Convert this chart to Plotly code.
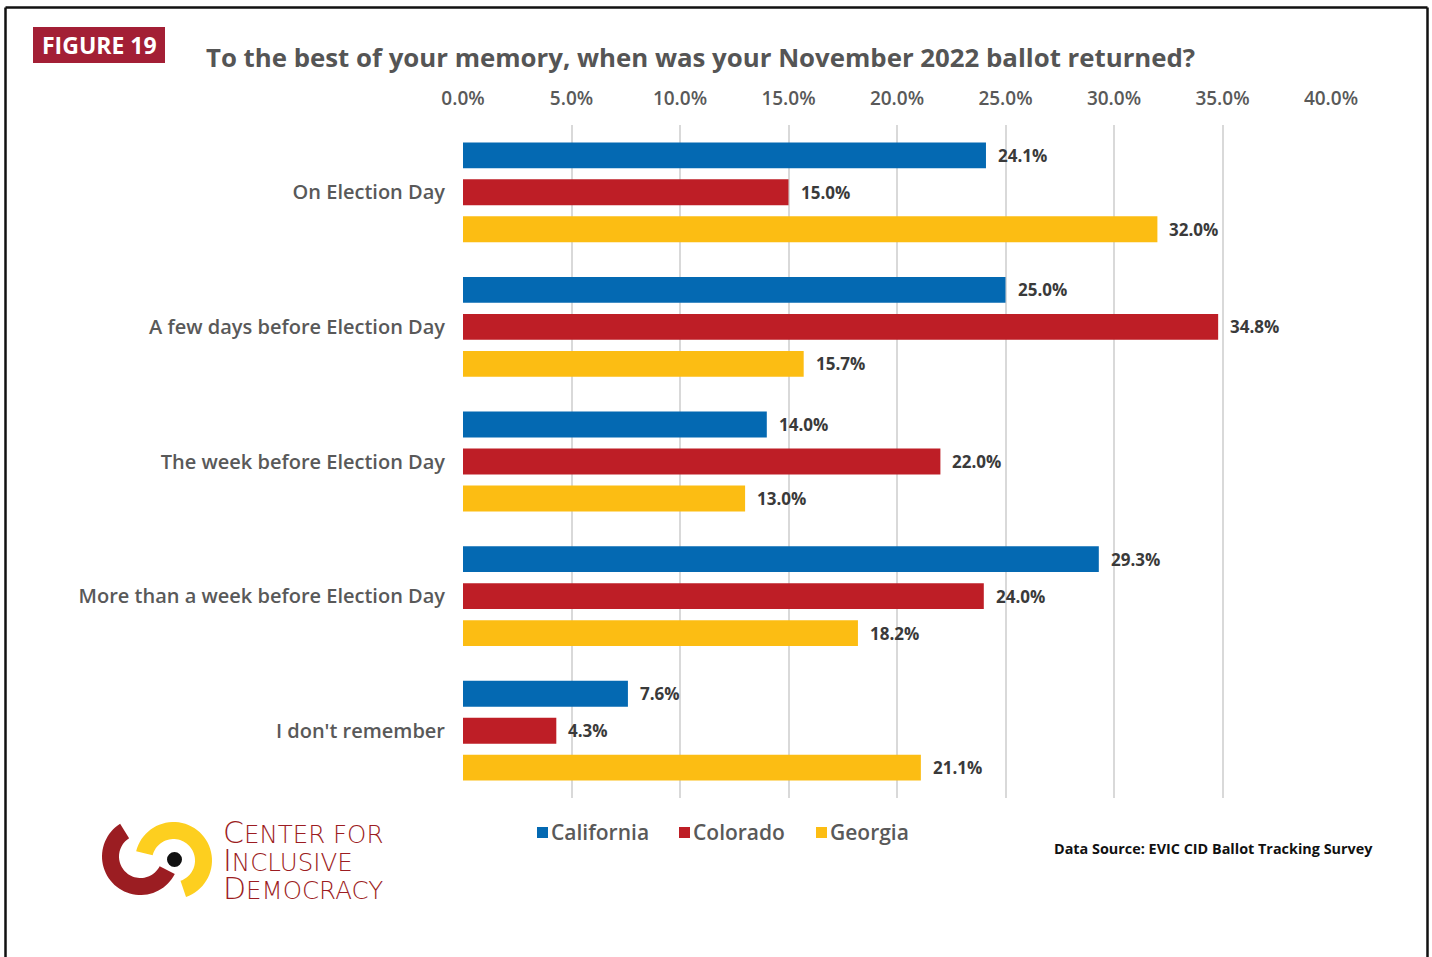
import math
import plotly.graph_objects as go

# ---- data ----
categories = [
    "On Election Day",
    "A few days before Election Day",
    "The week before Election Day",
    "More than a week before Election Day",
    "I don't remember",
]
states = ["California", "Colorado", "Georgia"]
california = [24.1, 25.0, 14.0, 29.3, 7.6]
colorado = [15.0, 34.8, 22.0, 24.0, 4.3]
georgia = [32.0, 15.7, 13.0, 18.2, 21.1]
tick_values = [0, 5, 10, 15, 20, 25, 30, 35, 40]
tick_labels = ["0.0%", "5.0%", "10.0%", "15.0%", "20.0%", "25.0%", "30.0%", "35.0%", "40.0%"]

series = [california, colorado, georgia]
colors = ["#0469b2", "#be1e26", "#fcbd13"]

# ---- page geometry (pixels) ----
W, H = 1432, 957
PLOT_LEFT, PLOT_RIGHT = 463, 1331
PLOT_TOP, PLOT_BOTTOM = 125, 798
BARGAP, GROUPGAP = 0.176, 0.30

FONT = "Open Sans"
GREY = "#595959"


def px(x):
    return x / W


def py(y):
    return 1 - y / H


fig = go.Figure()
for name, vals, col in zip(states, series, colors):
    fig.add_trace(go.Bar(
        y=categories, x=vals, name=name, orientation="h",
        marker=dict(color=col, line=dict(width=0)),
        hoverinfo="x+name", showlegend=False,
    ))

# value labels next to each bar
cat_px = (PLOT_BOTTOM - PLOT_TOP) / len(categories)
slot_px = cat_px * (1 - BARGAP) / len(series)
annotations = []
for i, vals in enumerate(series):
    shift = -(i - (len(series) - 1) / 2) * slot_px
    for cat, v in zip(categories, vals):
        annotations.append(dict(
            x=v, y=cat, xref="x", yref="y", text=f"{v:.1f}%",
            showarrow=False, xanchor="left", yanchor="middle",
            xshift=10, yshift=shift,
            font=dict(family=FONT, size=17, color="#3a3a3a", weight=700),
        ))

# heading
annotations.append(dict(
    x=px(99), y=py(45), xref="paper", yref="paper", text="FIGURE 19",
    showarrow=False, xanchor="center", yanchor="middle",
    font=dict(family=FONT, size=23, color="white", weight=700),
))
annotations.append(dict(
    x=px(700), y=py(57), xref="paper", yref="paper",
    text="To the best of your memory, when was your November 2022 ballot returned?",
    showarrow=False, xanchor="center", yanchor="middle",
    font=dict(family=FONT, size=25.8, color="#555555", weight=700),
))

# legend
legend_x = [537, 679, 816]
shapes = []
for name, col, lx in zip(states, colors, legend_x):
    shapes.append(dict(type="rect", xref="paper", yref="paper",
                       x0=px(lx), x1=px(lx + 11), y0=py(838), y1=py(827),
                       fillcolor=col, line=dict(width=0)))
    annotations.append(dict(
        x=px(lx + 12), y=py(832), xref="paper", yref="paper", text=name,
        showarrow=False, xanchor="left", yanchor="middle",
        font=dict(family=FONT, size=21, color=GREY, weight=600),
    ))

# source note
annotations.append(dict(
    x=px(1052), y=py(848), xref="paper", yref="paper",
    text="Data Source: EVIC CID Ballot Tracking Survey",
    showarrow=False, xanchor="left", yanchor="middle",
    font=dict(family=FONT, size=14.4, color="#111111", weight=700),
))

# organisation wordmark (small caps: first letter of each line enlarged)
LOGO_RED = "#9c1c22"
for line, mid in [("CENTER FOR", 832), ("INCLUSIVE", 860), ("DEMOCRACY", 888)]:
    annotations.append(dict(
        x=px(221), y=py(mid), xref="paper", yref="paper",
        text=f"<span style='font-size:30px'>{line[0]}</span>{line[1:]}",
        showarrow=False, xanchor="left", yanchor="middle",
        font=dict(family="DejaVu Sans", size=24.5, color=LOGO_RED, weight=200),
    ))


def ring_path(cx, cy, r_in, r_out, a0, a1, n=48):
    pts = []
    for k in range(n + 1):
        a = math.radians(a0 + (a1 - a0) * k / n)
        pts.append((cx + r_out * math.cos(a), cy - r_out * math.sin(a)))
    for k in range(n + 1):
        a = math.radians(a1 - (a1 - a0) * k / n)
        pts.append((cx + r_in * math.cos(a), cy - r_in * math.sin(a)))
    d = "M" + " L".join(f"{px(x):.5f},{py(y):.5f}" for x, y in pts) + " Z"
    return d


shapes.append(dict(type="path", xref="paper", yref="paper",
                   path=ring_path(140.5, 856.5, 21.5, 38.5, 122, 333),
                   fillcolor="#9b1d22", line=dict(width=0)))
shapes.append(dict(type="path", xref="paper", yref="paper",
                   path=ring_path(173.5, 860.5, 21.5, 38.5, -71, 166),
                   fillcolor="#fdcf1f", line=dict(width=0)))
shapes.append(dict(type="circle", xref="paper", yref="paper",
                   x0=px(167), x1=px(182), y0=py(867), y1=py(852),
                   fillcolor="#111111", line=dict(width=0)))

# figure badge
shapes.append(dict(type="rect", xref="paper", yref="paper",
                   x0=px(33), x1=px(165), y0=py(63), y1=py(27),
                   fillcolor="#a31f35", line=dict(width=0), layer="below"))

# page frame (open at the bottom)
for x0, y0, x1, y1 in [(5.5, 7.5, 1427.5, 7.5), (5.5, 7.5, 5.5, 960), (1427.5, 7.5, 1427.5, 960)]:
    shapes.append(dict(type="line", xref="paper", yref="paper",
                       x0=px(x0), y0=py(y0), x1=px(x1), y1=py(y1),
                       line=dict(color="#111111", width=2.5)))

fig.update_layout(
    width=W, height=H, autosize=False,
    margin=dict(l=0, r=0, t=0, b=0, autoexpand=False),
    paper_bgcolor="white", plot_bgcolor="white",
    barmode="group", bargap=BARGAP, bargroupgap=GROUPGAP,
    showlegend=False,
    annotations=annotations, shapes=shapes,
    xaxis=dict(
        domain=[px(PLOT_LEFT), px(PLOT_RIGHT)], range=[0, 40], side="top",
        tickvals=tick_values, ticktext=tick_labels, automargin=False,
        showgrid=True, gridcolor="#d9d9d9", gridwidth=1.5,
        zeroline=False, showline=False, ticks="", ticklabelstandoff=15,
        tickfont=dict(family=FONT, size=19, color=GREY, weight=600),
        fixedrange=True,
    ),
    yaxis=dict(
        domain=[py(PLOT_BOTTOM), py(PLOT_TOP)], automargin=False,
        type="category", categoryorder="array", categoryarray=categories,
        autorange="reversed", showgrid=False, zeroline=False, showline=False,
        ticks="", ticklabelstandoff=17,
        tickfont=dict(family=FONT, size=20, color=GREY, weight=600),
        fixedrange=True,
    ),
)

fig.write_html("out.html")
